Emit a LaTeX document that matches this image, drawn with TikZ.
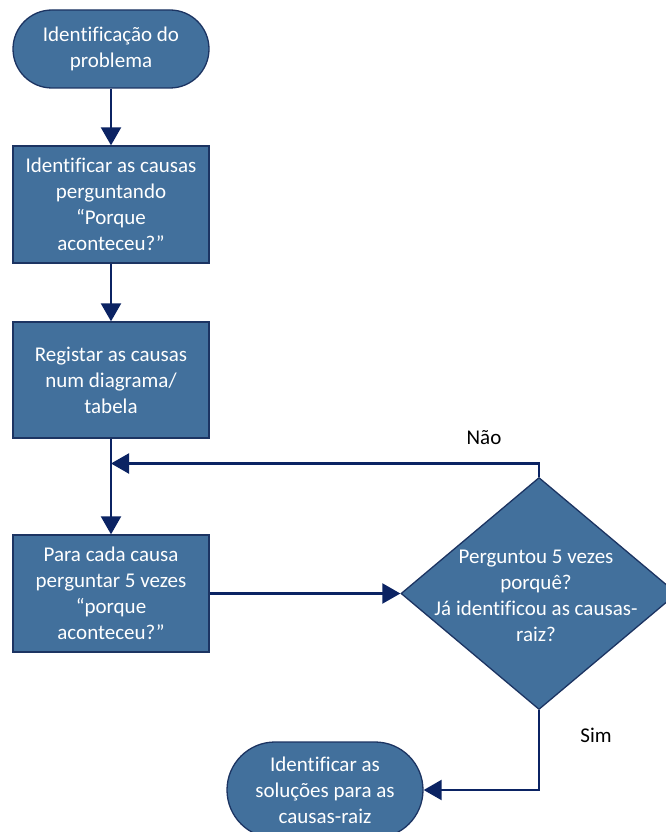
\documentclass[tikz,border=0pt]{standalone}
\usepackage{fontspec}
\setmainfont{Carlito}[Ligatures=NoCommon]
\usetikzlibrary{shapes.geometric,arrows.meta}
\definecolor{boxfill}{HTML}{42709C}
\definecolor{boxline}{HTML}{1C3462}
\definecolor{arrowc}{HTML}{0B2363}
\begin{document}
\begin{tikzpicture}[x=1pt,y=-1pt,
  shapebase/.style={draw=boxline, line width=1.3pt, fill=boxfill, text=white,
    font=\fontsize{21}{26}\selectfont, align=center, inner sep=0pt},
  termbox/.style={shapebase, minimum width=196pt},
  procbox/.style={shapebase, minimum width=196pt, minimum height=117pt},
  decbox/.style={draw=boxline, line width=1.3pt, fill=boxfill, diamond, inner sep=0pt,
    minimum width=276pt, minimum height=232pt},
  intext/.style={text=white, font=\fontsize{21}{26}\selectfont, align=center, inner sep=0pt},
  lbl/.style={text=black, font=\fontsize{21}{24}\selectfont, inner sep=0pt},
  arr/.style={draw=arrowc, line width=2.2pt, -{Triangle[length=18pt,width=20pt]}}
]
\useasboundingbox (0,0) rectangle (665,832);

\node[termbox, minimum height=78pt, rounded corners=39pt] (t1) at (111,49)
  {Identificação do\\problema};
\node[procbox] (b2) at (111,204.5)
  {Identificar as causas\\perguntando\\“Porque\\aconteceu?”};
\node[procbox, minimum height=116pt] (b3) at (111,380)
  {Registar as causas\\num diagrama/\\tabela};
\node[procbox] (b4) at (111,593.5)
  {Para cada causa\\perguntar 5 vezes\\“porque\\aconteceu?”};
\node[decbox] (d) at (539,593.5) {};
\node[intext] (dt) at (536,596)
  {Perguntou 5 vezes\\porquê?\\Já identificou as causas-\\raiz?};
\node[termbox, minimum height=96pt, rounded corners=48pt] (t2) at (325,790)
  {Identificar as\\soluções para as\\causas-raiz};

\coordinate (m) at (111,463.5);

\draw[arr] (t1) -- (b2);
\draw[arr] (b2) -- (b3);
\draw[arr] (b3) -- (b4);
\draw[arr] (b4) -- (d);
\draw[arr] (d.north) |- (m);
\draw[arr] (d.south) |- (t2.east);

\node[lbl] (no) at (484,438) {Não};
\node[lbl] (yes) at (596,735) {Sim};
\end{tikzpicture}
\end{document}
